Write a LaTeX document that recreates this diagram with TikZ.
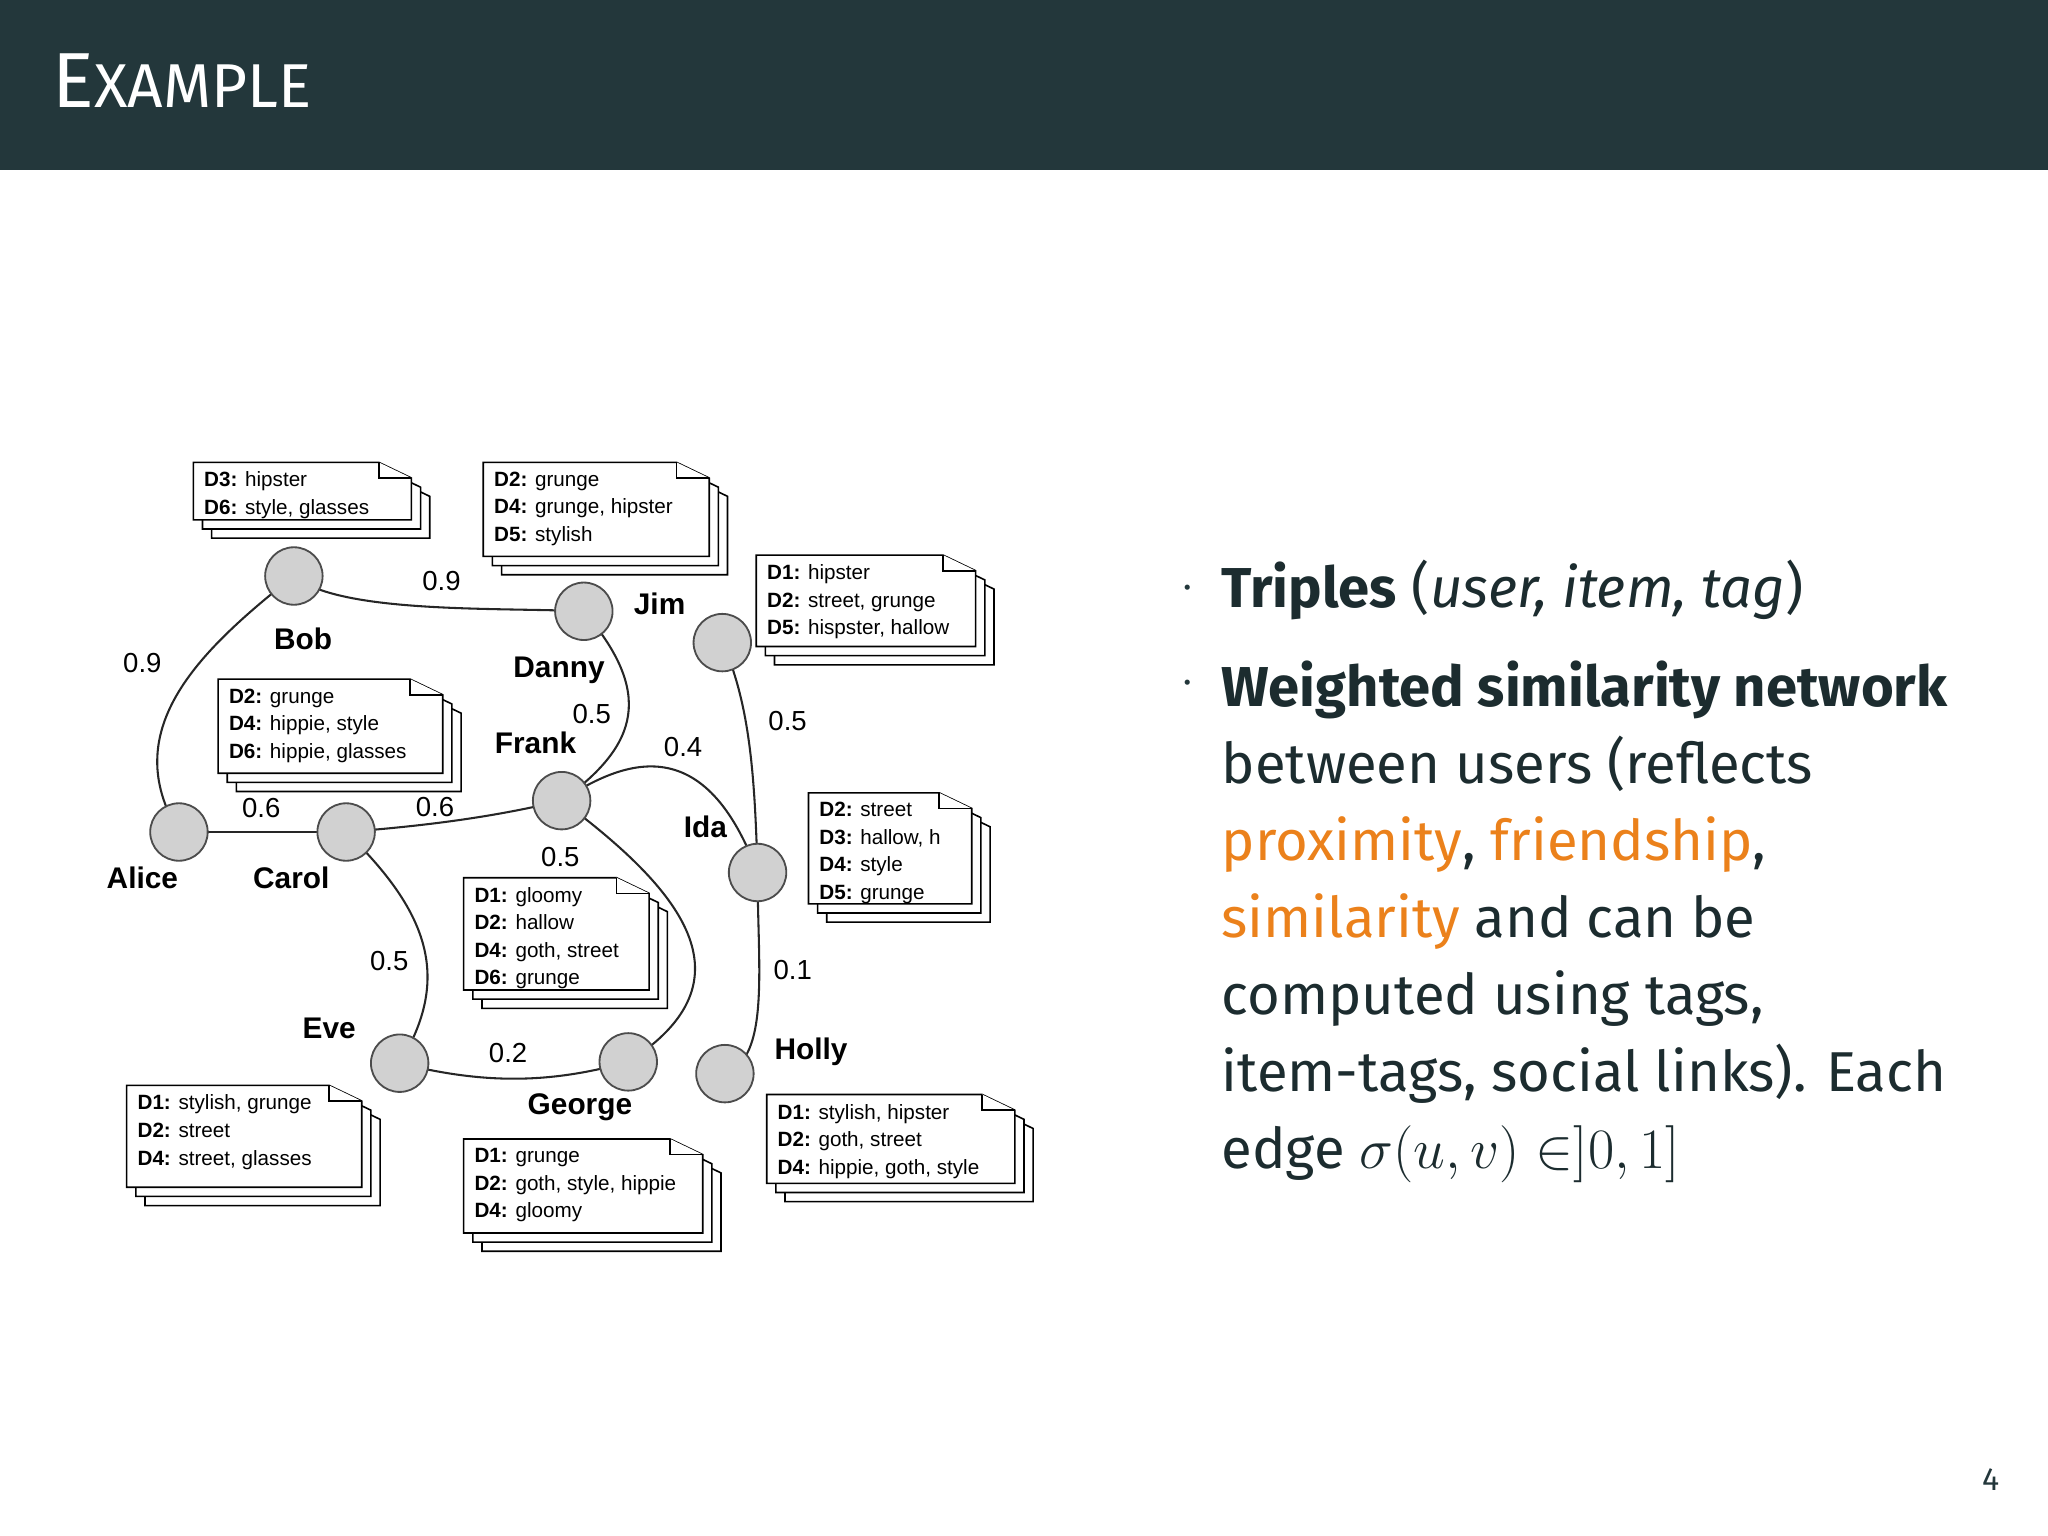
\documentclass[tikz,border=0pt]{standalone}
\usepackage{fontspec}
\setmainfont{Fira Sans}
\newfontfamily\diag{Liberation Sans}
\definecolor{hdr}{HTML}{23373B}
\definecolor{org}{HTML}{EB811B}
\tikzset{
 usr/.style={circle,draw=black!70,line width=0.8pt,fill=black!18,minimum size=44*0.02cm,inner sep=0pt},
 nm/.style={font=\diag\fontsize{13}{15}\selectfont\bfseries,inner sep=0pt},
 wt/.style={font=\diag\fontsize{12}{14}\selectfont,inner sep=0pt},
 edge/.style={line width=0.9pt,black!85},
 pg/.style={draw=black,line width=0.7pt,fill=white},
 doctext/.style={font=\diag\fontsize{9}{12}\selectfont,align=left,anchor=north west,inner sep=0pt},
 body/.style={font=\fontsize{24.5}{33.5}\selectfont,text=hdr!80!black}
}
\newcommand{\docstack}[6]{%
 \foreach \o in {14,7,0}{%
  \draw[pg] (#2+\o,#3+\o) -- (#2+\o+#4-25,#3+\o) -- (#2+\o+#4,#3+\o+12) -- (#2+\o+#4,#3+\o+#5) -- (#2+\o,#3+\o+#5) -- cycle;}
 \draw[pg] (#2+#4-25,#3) -- (#2+#4-25,#3+12) -- (#2+#4,#3+12);
 \node[doctext] (#1) at (#2+8,#3+7) {#6};}
\begin{document}
\begin{tikzpicture}[x=0.02cm,y=-0.02cm]
\useasboundingbox (0,0) rectangle (1568,1176);
\fill[hdr] (0,0) rectangle (1568,130);
\node[anchor=base west,text=white,inner sep=0pt] (title) at (40,82) {\fontsize{34}{34}\selectfont E\fontsize{27}{27}\selectfont XAMPLE};
\node[anchor=base east,inner sep=0pt,text=hdr] (pnum) at (1531,1141) {\fontsize{14}{14}\selectfont 4};
% edges
\draw[edge] (225,441) .. controls (150,500) and (90,560) .. (137,637);
\draw[edge] (225,441) .. controls (260,470) and (380,465) .. (447,468);
\draw[edge] (447,468) .. controls (500,530) and (490,570) .. (430,613);
\draw[edge] (430,613) .. controls (480,580) and (540,560) .. (580,668);
\draw[edge] (553,492) .. controls (575,540) and (578,600) .. (580,668);
\draw[edge] (137,637) -- (265,637);
\draw[edge] (265,637) .. controls (330,632) and (380,625) .. (430,613);
\draw[edge] (265,637) .. controls (330,700) and (345,750) .. (306,814);
\draw[edge] (430,613) .. controls (520,680) and (580,750) .. (481,813);
\draw[edge] (306,814) .. controls (370,830) and (420,830) .. (481,813);
\draw[edge] (580,668) .. controls (580,740) and (590,810) .. (555,822);
% users
\node[usr] (bob) at (225,441) {};
\node[usr] (danny) at (447,468) {};
\node[usr] (jim) at (553,492) {};
\node[usr] (frank) at (430,613) {};
\node[usr] (alice) at (137,637) {};
\node[usr] (carol) at (265,637) {};
\node[usr] (ida) at (580,668) {};
\node[usr] (eve) at (306,814) {};
\node[usr] (george) at (481,813) {};
\node[usr] (holly) at (555,822) {};
% names
\node[nm] (lbob) at (232,489) {Bob};
\node[nm] (ljim) at (505,462) {Jim};
\node[nm] (ldanny) at (428,513) {Danny};
\node[nm] (lfrank) at (410,569) {Frank};
\node[nm] (lalice) at (109,672) {Alice};
\node[nm] (lcarol) at (223,672) {Carol};
\node[nm] (lida) at (540,633) {Ida};
\node[nm] (leve) at (252,787) {Eve};
\node[nm] (lgeorge) at (444,848) {George};
\node[nm] (lholly) at (621,805) {Holly};
% weights
\node[wt] (w1) at (109,508) {0.9};
\node[wt] (w2) at (338,445) {0.9};
\node[wt] (w3) at (453,547) {0.5};
\node[wt] (w4) at (523,572) {0.4};
\node[wt] (w5) at (603,552) {0.5};
\node[wt] (w6) at (200,619) {0.6};
\node[wt] (w7) at (333,618) {0.6};
\node[wt] (w8) at (429,656) {0.5};
\node[wt] (w9) at (298,736) {0.5};
\node[wt] (w10) at (389,806) {0.2};
\node[wt] (w11) at (607,743) {0.1};
% documents
\docstack{d1}{148}{354}{167}{44}{\textbf{D3:} hipster\\\textbf{D6:} style, glasses}
\docstack{d2}{370}{354}{173}{72}{\textbf{D2:} grunge\\\textbf{D4:} grunge, hipster\\\textbf{D5:} stylish}
\docstack{d3}{579}{425}{168}{70}{\textbf{D1:} hipster\\\textbf{D2:} street, grunge\\\textbf{D5:} hispster, hallow}
\docstack{d4}{167}{520}{172}{72}{\textbf{D2:} grunge\\\textbf{D4:} hippie, style\\\textbf{D6:} hippie, glasses}
\docstack{d5}{619}{607}{125}{85}{\textbf{D2:} street\\\textbf{D3:} hallow, h\\\textbf{D4:} style\\\textbf{D5:} grunge}
\docstack{d6}{355}{672}{142}{86}{\textbf{D1:} gloomy\\\textbf{D2:} hallow\\\textbf{D4:} goth, street\\\textbf{D6:} grunge}
\docstack{d7}{97}{831}{180}{78}{\textbf{D1:} stylish, grunge\\\textbf{D2:} street\\\textbf{D4:} street, glasses}
\docstack{d8}{355}{872}{183}{72}{\textbf{D1:} grunge\\\textbf{D2:} goth, style, hippie\\\textbf{D4:} gloomy}
\docstack{d9}{587}{838}{190}{68}{\textbf{D1:} stylish, hipster\\\textbf{D2:} goth, street\\\textbf{D4:} hippie, goth, style}
% bullets
\node[inner sep=0pt,text=hdr] (b1) at (909,452) {\fontsize{10}{10}\selectfont\textbullet};
\node[inner sep=0pt,text=hdr] (b2) at (909,525) {\fontsize{10}{10}\selectfont\textbullet};
\node[body,anchor=base west,inner sep=0pt] (t1) at (935,465) {\textbf{Triples} (\textit{user, item, tag})};
\node[body,anchor=north west,inner sep=0pt,align=left] (t2) at (935,506) {\textbf{Weighted similarity network}\\ between users (reflects\\ \textcolor{org}{proximity}, \textcolor{org}{friendship},\\ \textcolor{org}{similarity} and can be\\ computed using tags,\\ item-tags, social links). Each\\ edge $\sigma(u,v)\in]0,1]$};
\end{tikzpicture}
\end{document}
